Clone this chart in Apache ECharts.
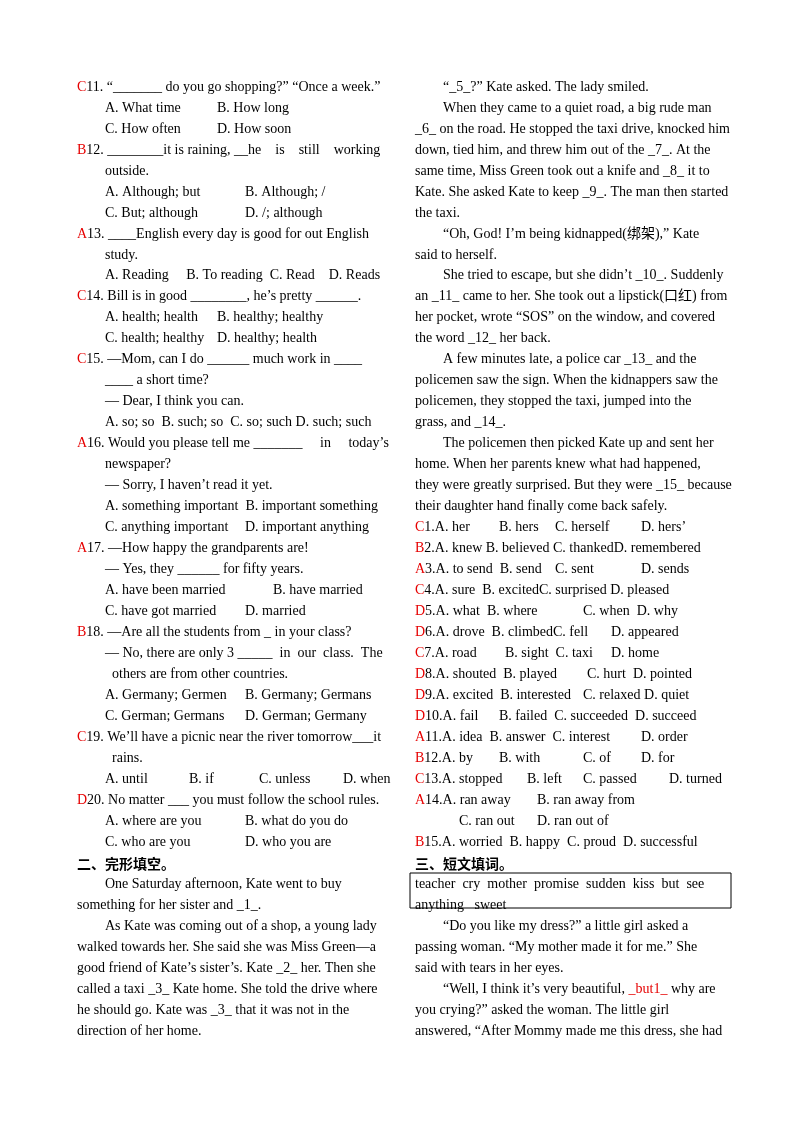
<!DOCTYPE html>
<html>
<head>
<meta charset="utf-8">
<script src="https://cdn.jsdelivr.net/npm/echarts@6/dist/echarts.min.js"></script>
<style>html,body{margin:0;padding:0;background:#fff}#page{width:800px;height:1132px}</style>
</head>
<body>
<div id="page"></div>
<script>
// left column: each line is a list of [x, text] pieces
var leftLines = [
  [[77,'{r|C}11. “_______ do you go shopping?” “Once a week.”']],
  [[105,'A. What time'],[217,'B. How long']],
  [[105,'C. How often'],[217,'D. How soon']],
  [[77,'{r|B}12. ________it is raining, __he    is    still    working']],
  [[105,'outside.']],
  [[105,'A. Although; but'],[245,'B. Although; /']],
  [[105,'C. But; although'],[245,'D. /; although']],
  [[77,'{r|A}13. ____English every day is good for out English']],
  [[105,'study.']],
  [[105,'A. Reading     B. To reading  C. Read    D. Reads']],
  [[77,'{r|C}14. Bill is in good ________, he’s pretty ______.']],
  [[105,'A. health; health'],[217,'B. healthy; healthy']],
  [[105,'C. health; healthy'],[217,'D. healthy; health']],
  [[77,'{r|C}15. —Mom, can I do ______ much work in ____']],
  [[105,'____ a short time?']],
  [[105,'— Dear, I think you can.']],
  [[105,'A. so; so  B. such; so  C. so; such D. such; such']],
  [[77,'{r|A}16. Would you please tell me _______     in     today’s']],
  [[105,'newspaper?']],
  [[105,'— Sorry, I haven’t read it yet.']],
  [[105,'A. something important  B. important something']],
  [[105,'C. anything important'],[245,'D. important anything']],
  [[77,'{r|A}17. —How happy the grandparents are!']],
  [[105,'— Yes, they ______ for fifty years.']],
  [[105,'A. have been married'],[273,'B. have married']],
  [[105,'C. have got married'],[245,'D. married']],
  [[77,'{r|B}18. —Are all the students from _ in your class?']],
  [[105,'— No, there are only 3 _____  in  our  class.  The']],
  [[112,'others are from other countries.']],
  [[105,'A. Germany; Germen'],[245,'B. Germany; Germans']],
  [[105,'C. German; Germans'],[245,'D. German; Germany']],
  [[77,'{r|C}19. We’ll have a picnic near the river tomorrow___it']],
  [[112,'rains.']],
  [[105,'A. until'],[189,'B. if'],[259,'C. unless'],[343,'D. when']],
  [[77,'{r|D}20. No matter ___ you must follow the school rules.']],
  [[105,'A. where are you'],[245,'B. what do you do']],
  [[105,'C. who are you'],[245,'D. who you are']],
  [[77,'{b|二、完形填空。}']],
  [[105,'One Saturday afternoon, Kate went to buy']],
  [[77,'something for her sister and _1_.']],
  [[105,'As Kate was coming out of a shop, a young lady']],
  [[77,'walked towards her. She said she was Miss Green—a']],
  [[77,'good friend of Kate’s sister’s. Kate _2_ her. Then she']],
  [[77,'called a taxi _3_ Kate home. She told the drive where']],
  [[77,'he should go. Kate was _3_ that it was not in the']],
  [[77,'direction of her home.']]
];
var rightLines = [
  [[443,'“_5_?” Kate asked. The lady smiled.']],
  [[443,'When they came to a quiet road, a big rude man']],
  [[415,'_6_ on the road. He stopped the taxi drive, knocked him']],
  [[415,'down, tied him, and threw him out of the _7_. At the']],
  [[415,'same time, Miss Green took out a knife and _8_ it to']],
  [[415,'Kate. She asked Kate to keep _9_. The man then started']],
  [[415,'the taxi.']],
  [[443,'“Oh, God! I’m being kidnapped(绑架),” Kate']],
  [[415,'said to herself.']],
  [[443,'She tried to escape, but she didn’t _10_. Suddenly']],
  [[415,'an _11_ came to her. She took out a lipstick(口红) from']],
  [[415,'her pocket, wrote “SOS” on the window, and covered']],
  [[415,'the word _12_ her back.']],
  [[443,'A few minutes late, a police car _13_ and the']],
  [[415,'policemen saw the sign. When the kidnappers saw the']],
  [[415,'policemen, they stopped the taxi, jumped into the']],
  [[415,'grass, and _14_.']],
  [[443,'The policemen then picked Kate up and sent her']],
  [[415,'home. When her parents knew what had happened,']],
  [[415,'they were greatly surprised. But they were _15_ because']],
  [[415,'their daughter hand finally come back safely.']],
  [[415,'{r|C}1.A. her'],[499,'B. hers'],[555,'C. herself'],[641,'D. hers’']],
  [[415,'{r|B}2.A. knew B. believed C. thankedD. remembered']],
  [[415,'{r|A}3.A. to send  B. send'],[555,'C. sent'],[641,'D. sends']],
  [[415,'{r|C}4.A. sure  B. excitedC. surprised D. pleased']],
  [[415,'{r|D}5.A. what  B. where'],[583,'C. when  D. why']],
  [[415,'{r|D}6.A. drove  B. climbedC. fell'],[611,'D. appeared']],
  [[415,'{r|C}7.A. road'],[505,'B. sight  C. taxi'],[611,'D. home']],
  [[415,'{r|D}8.A. shouted  B. played'],[587,'C. hurt  D. pointed']],
  [[415,'{r|D}9.A. excited  B. interested'],[583,'C. relaxed D. quiet']],
  [[415,'{r|D}10.A. fail'],[499,'B. failed  C. succeeded  D. succeed']],
  [[415,'{r|A}11.A. idea  B. answer  C. interest'],[641,'D. order']],
  [[415,'{r|B}12.A. by'],[499,'B. with'],[583,'C. of'],[641,'D. for']],
  [[415,'{r|C}13.A. stopped'],[527,'B. left'],[583,'C. passed'],[669,'D. turned']],
  [[415,'{r|A}14.A. ran away'],[537,'B. ran away from']],
  [[459,'C. ran out'],[537,'D. ran out of']],
  [[415,'{r|B}15.A. worried  B. happy  C. proud  D. successful']],
  [[415,'{b|三、短文填词。}']],
  [[415,'teacher  cry  mother  promise  sudden  kiss  but  see']],
  [[415,'anything   sweet']],
  [[443,'“Do you like my dress?” a little girl asked a']],
  [[415,'passing woman. “My mother made it for me.” She']],
  [[415,'said with tears in her eyes.']],
  [[443,'“Well, I think it’s very beautiful, {r|_but1_} why are']],
  [[415,'you crying?” asked the woman. The little girl']],
  [[415,'answered, “After Mommy made me this dress, she had']]
];

var chart = echarts.init(document.getElementById('page'));
var font = '"Liberation Serif","Noto Sans CJK SC",serif';
var rich = {
  r: {fill: '#e60000', fontSize: 14, fontFamily: font},
  b: {fill: '#000', fontSize: 14, fontWeight: 'bold', fontFamily: '"Noto Sans CJK SC",sans-serif'}
};
var els = [];
function addColumn(lines) {
  lines.forEach(function(line, i){
    var y = 87 + i * 20.98;
    line.forEach(function(seg){
      els.push({type: 'text', x: seg[0], y: y, style: {
        text: seg[1], fill: '#000', font: '14px ' + font,
        verticalAlign: 'middle', rich: rich
      }});
    });
  });
}
addColumn(leftLines);
addColumn(rightLines);
// word bank box
els.push({type: 'rect', shape: {x: 410, y: 873, width: 321, height: 35},
  style: {fill: 'none', stroke: '#000', lineWidth: 1}});
chart.setOption({animation: false, graphic: els});
</script>
</body>
</html>
